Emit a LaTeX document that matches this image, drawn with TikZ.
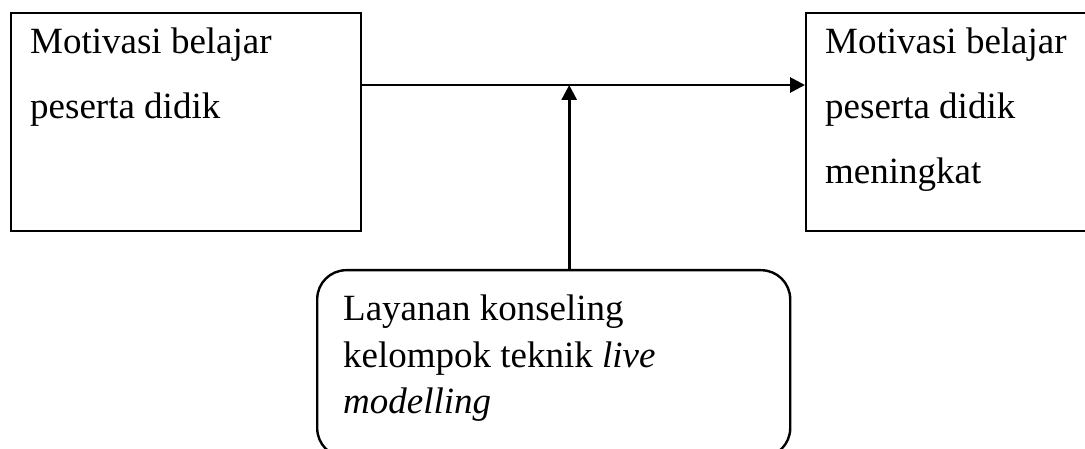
\documentclass[tikz,border=0pt]{standalone}
\usepackage{fontspec}
\setmainfont{Liberation Serif}
\usetikzlibrary{arrows.meta}
\begin{document}
\begin{tikzpicture}[x=1pt,y=-1pt,
  box/.style={draw, line width=2.4pt, anchor=north west, inner sep=0pt},
  txt/.style={anchor=north west, inner sep=0pt, align=left},
  bigtxt/.style={txt, font=\fontsize{37}{65}\selectfont},
  lowtxt/.style={txt, font=\fontsize{37}{46.5}\selectfont},
  conn/.style={line width=2.8pt, -{Triangle[length=15pt,width=15pt]}}]
\useasboundingbox (0,0) rectangle (1085,449);
\node[box, minimum width=350pt, minimum height=218pt] (A) at (10,12) {};
\node[box, minimum width=300pt, minimum height=218pt] (B) at (805,12) {};
\node[box, rounded corners=29pt, minimum width=473pt, minimum height=187pt] (C) at (316,269) {};
\node[bigtxt] (At) at (30,28) {Motivasi belajar\\peserta didik};
\node[bigtxt] (Bt) at (825,28) {Motivasi belajar\\peserta didik\\meningkat};
\node[lowtxt] (Ct) at (343,295) {Layanan konseling\\kelompok teknik \textit{live}\\\textit{modelling}};
\coordinate (hl) at ([yshift=-73pt]A.north east);
\coordinate (hr) at ([yshift=-73pt]B.north west);
\coordinate (vb) at ([xshift=15.5pt]C.north);
\draw[conn] (hl) -- (hr);
\draw[conn] (vb) -- (vb |- hl);
\end{tikzpicture}
\end{document}
